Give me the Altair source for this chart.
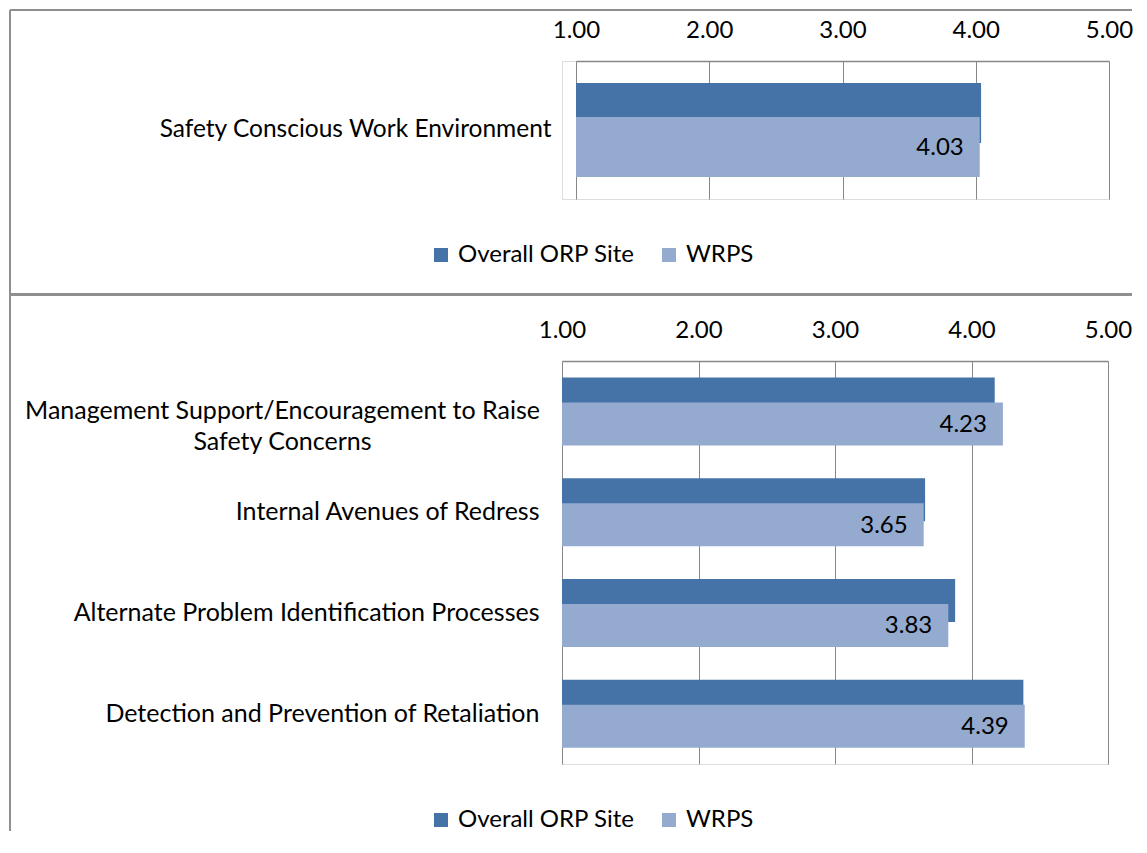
import altair as alt
import pandas as pd

# ---------------- data ----------------
series = ["Overall ORP Site", "WRPS"]
colors = ["#4573A7", "#95AACF"]
x_ticks = [1, 2, 3, 4, 5]

top_categories = ["Safety Conscious Work Environment"]
top_overall = [4.04]
top_wrps = [4.03]

bottom_categories = [
    "Management Support/Encouragement to Raise Safety Concerns",
    "Internal Avenues of Redress",
    "Alternate Problem Identification Processes",
    "Detection and Prevention of Retaliation",
]
bottom_overall = [4.17, 3.66, 3.88, 4.38]
bottom_wrps = [4.23, 3.65, 3.83, 4.39]

wrapped_category = bottom_categories[0]
wrapped_lines = "Management Support/Encouragement to Raise\nSafety Concerns"

# ---------------- style ----------------
FONT = "Lato"
FS = 25
LFS = 24
GRID = "#878787"
FRAME = "#8f8f8f"


def long_df(cats, overall, wrps):
    rows = []
    for c, o, w in zip(cats, overall, wrps):
        rows.append({"category": c, "series": series[0], "value": o})
        rows.append({"category": c, "series": series[1], "value": w})
    return pd.DataFrame(rows)


def panel(cats, overall, wrps, xrange, off, barh, label_pad, legend_y,
          label_fs, label_expr=None):
    df = long_df(cats, overall, wrps)
    base = alt.Chart(df)

    if xrange is not None:
        xscale = alt.Scale(domain=[1, 5], nice=False, zero=False, range=xrange)
    else:
        xscale = alt.Scale(domain=[1, 5], nice=False, zero=False)

    x = alt.X(
        "value:Q",
        scale=xscale,
        axis=alt.Axis(
            orient="top", values=x_ticks, format=".2f", title=None,
            grid=True, gridColor=GRID, gridWidth=1,
            domain=True, domainColor=GRID, domainWidth=1.5,
            ticks=False, labelPadding=19, labelFont=FONT, labelFontSize=LFS,
            labelColor="black", labelFlush=False,
        ),
    )
    yaxis_kw = dict(
        title=None, domain=False, ticks=False, grid=False,
        labelPadding=label_pad, labelFont=FONT, labelFontSize=label_fs,
        labelColor="black", labelLimit=0,
    )
    if label_expr is not None:
        yaxis_kw["labelExpr"] = label_expr
    y = alt.Y(
        "category:N", sort=cats,
        scale=alt.Scale(paddingInner=0, paddingOuter=0),
        axis=alt.Axis(**yaxis_kw),
    )
    color = alt.Color(
        "series:N",
        scale=alt.Scale(domain=series, range=colors),
        legend=alt.Legend(
            orient="none", legendX=-133, legendY=legend_y,
            direction="horizontal", title=None,
            symbolType="square", symbolSize=196, symbolStrokeWidth=0,
            labelFont=FONT, labelFontSize=LFS, labelColor="black",
            labelOffset=5, columnPadding=22, labelLimit=0,
        ),
    )

    dark = base.transform_filter(alt.datum.series == series[0]).mark_bar(
        height=barh, yOffset=-off
    ).encode(x=x, x2=alt.datum(1), y=y, color=color)

    light = base.transform_filter(alt.datum.series == series[1]).mark_bar(
        height=barh, yOffset=off
    ).encode(x=x, x2=alt.datum(1), y=y, color=color)

    labels = base.transform_filter(alt.datum.series == series[1]).mark_text(
        align="right", baseline="middle", dx=-16, yOffset=off + 1,
        font=FONT, fontSize=LFS, color="black",
    ).encode(x=x, y=y, text=alt.Text("value:Q", format=".2f"))

    return [dark, light, labels]


one = pd.DataFrame({"k": [0]})

# ---------------- top panel ----------------
top_layers = panel(top_categories, top_overall, top_wrps,
                   [14, 547], 17, 60, 11, 182, 24.5)
frame_top = alt.Chart(one).mark_rule(color=FRAME, strokeWidth=2).encode(
    x=alt.value(-552), x2=alt.value(570), y=alt.value(-51))
frame_left_top = alt.Chart(one).mark_rule(color=FRAME, strokeWidth=2).encode(
    x=alt.value(-552), y=alt.value(-51), y2=alt.value(234))
frame_sep = alt.Chart(one).mark_rule(color=FRAME, strokeWidth=3).encode(
    x=alt.value(-551), x2=alt.value(570), y=alt.value(233.5))

top = alt.layer(*top_layers, frame_top, frame_left_top, frame_sep).properties(
    width=547, height=138)

# ---------------- bottom panel ----------------
expr = "datum.value == '" + wrapped_category + "' ? '' : datum.value"
bottom_layers = panel(bottom_categories, bottom_overall, bottom_wrps,
                      None, 12.5, 43, 23, 447, FS, label_expr=expr)

wrap_df = pd.DataFrame({"category": [wrapped_category], "text": [wrapped_lines]})
wrap_text = alt.Chart(wrap_df).mark_text(
    align="center", baseline="middle", lineBreak="\n", lineHeight=31,
    font=FONT, fontSize=FS, color="black",
).encode(x=alt.value(-279.5), y=alt.Y("category:N", sort=bottom_categories), text="text:N")

frame_left_bot = alt.Chart(one).mark_rule(color=FRAME, strokeWidth=2).encode(
    x=alt.value(-552), y=alt.value(-66.5), y2=alt.value(470))

bottom = alt.layer(*bottom_layers, wrap_text, frame_left_bot).properties(
    width=546, height=403)

chart = alt.vconcat(top, bottom, spacing=162, bounds="flush").resolve_scale(
    color="independent", x="independent", y="independent"
).configure_view(strokeWidth=0).configure(
    padding={"left": 0, "top": 0, "right": 0, "bottom": 0},
    background="white",
)

chart.save("out.html", embed_options={"renderer": "svg", "actions": False})
